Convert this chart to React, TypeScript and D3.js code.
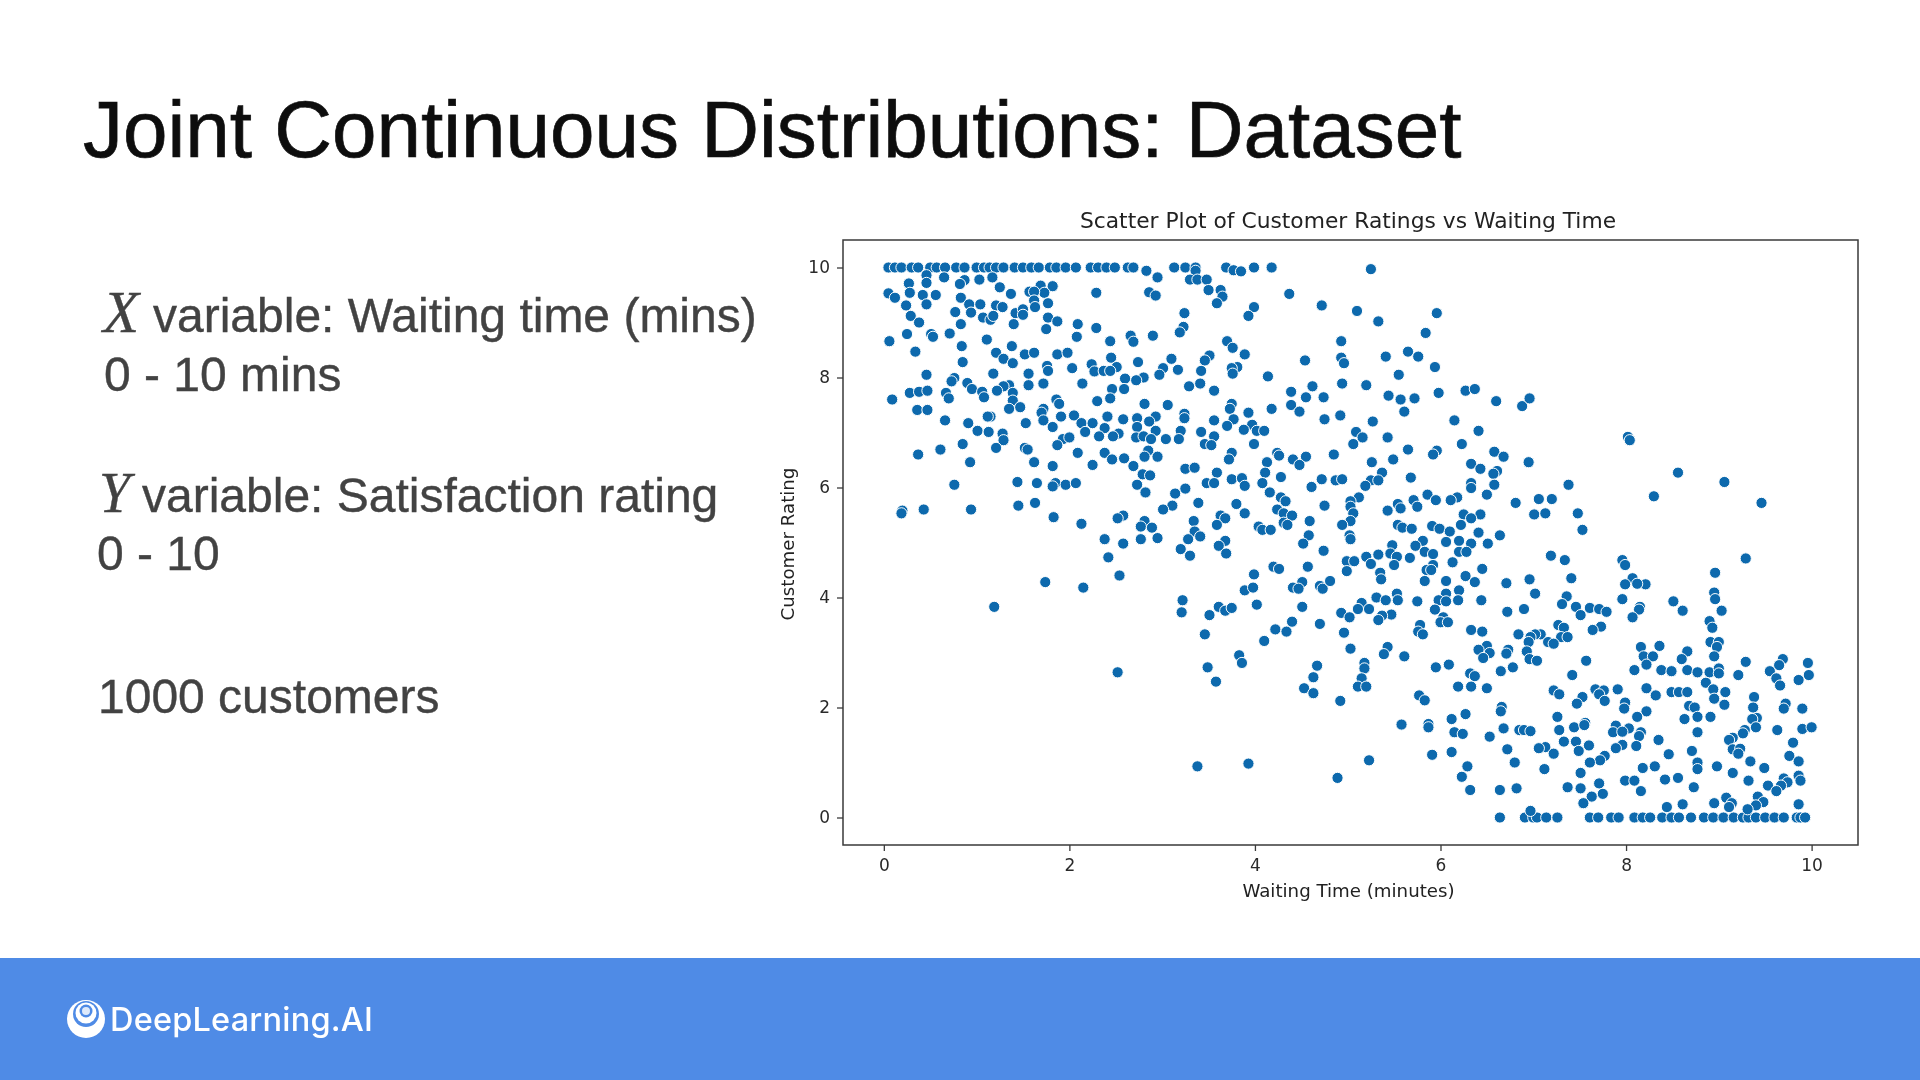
import { useEffect, useRef } from 'react'
import * as d3 from 'd3'

const WIDTH = 1920
const HEIGHT = 1080

const xTicks = [0, 2, 4, 6, 8, 10]
const yTicks = [0, 2, 4, 6, 8, 10]

// customers pinned at the top rating
const ratedTenX = [0.05,0.12,0.19,0.3,0.37,0.5,0.57,0.66,0.78,0.87,1.0,1.08,1.14,1.21,1.29,1.41,1.5,1.59,1.67,1.79,1.86,1.96,2.07,2.23,2.31,2.4,2.49,2.63,2.69,3.13,3.25,3.36,3.69,3.99,4.18]

// customers pinned at the bottom rating
const ratedZeroX = [6.64,6.91,7.0,7.04,7.14,7.26,7.61,7.7,7.84,7.92,8.09,8.18,8.26,8.39,8.49,8.57,8.7,8.84,8.94,9.05,9.16,9.26,9.32,9.4,9.5,9.6,9.7,9.84,9.88,9.93]

// [waiting time, rating]
const shortWaitHighRating: [number, number][] = [
  [2.83,9.94],[2.95,9.82],[3.36,9.94],[3.3,9.78],[3.38,9.78],[3.48,9.78],[3.5,9.59],[3.63,9.59],[3.65,9.47],[3.59,9.35],[3.77,9.95],[3.85,9.93],[4.37,9.52],[4.72,9.31],[3.99,9.28],[3.93,9.12],[3.24,9.17],[3.23,8.92],[3.19,8.82],[2.9,8.76],[2.66,8.76],[2.69,8.65],[2.29,9.54],[2.86,9.55],[2.93,9.49],
  [0.46,9.86],[0.65,9.82],[0.87,9.77],[1.03,9.78],[1.17,9.82],[0.46,9.72],[0.27,9.71],[0.28,9.54],[0.82,9.7],[1.25,9.64],[1.37,9.52],[1.69,9.67],[1.82,9.66],[1.73,9.54],[1.57,9.56],[1.62,9.56],[0.05,9.53],[0.12,9.45],[0.42,9.5],[0.56,9.5],[0.83,9.45],[0.24,9.31],[0.46,9.33],[0.92,9.33],[1.04,9.33],[1.21,9.31],[1.28,9.28],[1.62,9.4],[1.63,9.28],[1.77,9.35],
  [0.77,9.19],[0.94,9.18],[0.29,9.12],[0.38,9.0],[1.07,9.09],[1.15,9.05],[1.18,9.12],[1.42,9.17],[1.5,9.24],[1.5,9.14],[1.77,9.09],[1.87,9.02],[0.83,8.97],[1.4,8.97],[2.09,8.97],[2.29,8.9],[1.75,8.88],[0.25,8.79],[0.51,8.79],[0.53,8.74],[0.71,8.8],[0.06,8.66],[2.08,8.74],[2.44,8.66],[1.11,8.69],[0.84,8.57],[1.38,8.57],[0.34,8.47],[1.21,8.45],[1.52,8.42],[1.62,8.45],[1.87,8.42],[1.98,8.45],
  [3.7,8.66],[3.76,8.54],[3.89,8.42],[3.51,8.4],[3.1,8.34],[2.45,8.36],[1.29,8.34],[3.46,8.31],[2.74,8.28],[4.54,8.31],[0.85,8.28],[1.39,8.26],[1.76,8.21],[1.77,8.12],[2.24,8.24],[2.03,8.17],[2.51,8.19],[3.01,8.17],[3.17,8.14],[3.42,8.12],[3.81,8.19],[3.75,8.17],[3.76,8.07],[2.27,8.11],[2.37,8.12],[2.44,8.12],[0.46,8.05],[1.18,8.07],[1.56,8.07],[2.97,8.05],[4.14,8.02],[2.8,8.0],[2.6,7.98],[2.72,7.95],[0.76,7.99],[0.73,7.93],[0.9,7.9],[1.72,7.89],[2.14,7.89],[1.56,7.86],[1.35,7.86],[1.29,7.84],[3.29,7.84],[3.41,7.89],[4.62,7.84],
  [0.95,7.79],[1.22,7.76],[2.46,7.79],[2.59,7.79],[3.56,7.76],[4.39,7.74],[0.28,7.72],[0.38,7.74],[0.47,7.76],[0.67,7.72],[1.06,7.74],[1.08,7.64],[1.39,7.72],[4.55,7.64],[4.74,7.64],[0.7,7.62],[0.09,7.6],[2.44,7.62],[2.3,7.57],[1.86,7.6],[1.39,7.58],[1.89,7.52],[2.81,7.52],[3.06,7.5],[3.75,7.52],[4.39,7.5],[4.18,7.43],[3.73,7.43],[1.47,7.46],[1.35,7.43],[0.36,7.41],[0.47,7.41],[1.72,7.43],[1.7,7.36],[3.93,7.36],[4.48,7.38],[1.15,7.29],[1.12,7.29],[1.91,7.29],[2.05,7.31],[2.41,7.29],[2.73,7.26],[2.93,7.29],[3.24,7.34],[3.24,7.26],[0.66,7.22],[2.58,7.24],[3.56,7.22],[3.77,7.24],[4.75,7.24],[1.72,7.22],[2.86,7.2],[0.91,7.17],[1.53,7.17],[2.13,7.17],[2.25,7.17],[3.7,7.12],[2.73,7.1],[2.38,7.08],[1.82,7.1],[3.97,7.14],
  [1.01,7.03],[1.13,7.01],[3.2,7.03],[2.93,7.03],[3.88,7.05],[4.02,7.03],[4.1,7.03],[3.42,7.01],[2.17,7.01],[1.28,6.98],[2.53,6.98],[2.32,6.93],[2.47,6.93],[3.56,6.93],[2.72,6.91],[2.8,6.93],[2.88,6.88],[3.04,6.88],[3.18,6.88],[1.93,6.88],[2.0,6.91],[1.29,6.86],[0.85,6.79],[3.46,6.79],[3.53,6.77],[3.99,6.79],[1.87,6.77],[1.21,6.72],[1.52,6.72],[1.55,6.69],[0.61,6.69],[2.85,6.67],[3.75,6.63],[2.09,6.63],[2.38,6.63],[0.37,6.6],[4.24,6.63],[4.26,6.58],[2.81,6.56],[2.95,6.56],[2.46,6.51],[2.59,6.53],[3.72,6.51],[4.41,6.51],[4.55,6.56],
  [1.62,6.46],[0.93,6.46],[4.13,6.46],[2.25,6.41],[1.82,6.39],[2.69,6.39],[4.48,6.41],[3.25,6.34],[3.35,6.36],[4.11,6.27],[3.59,6.27],[2.79,6.24],[2.87,6.22],[4.28,6.19],[3.75,6.15],[3.86,6.17],[4.72,6.15],[1.44,6.1],[1.65,6.08],[1.85,6.08],[1.82,6.02],[1.96,6.05],[2.07,6.08],[0.76,6.05],[2.73,6.05],[3.48,6.08],[3.56,6.08],[4.08,6.08],[3.89,6.03],[4.61,6.01],[2.82,5.91],[3.25,5.98],[3.14,5.89],[4.16,5.91],[4.28,5.82],[4.33,5.75],[3.39,5.72],[3.8,5.7],[3.11,5.67],[4.75,5.67],[1.45,5.67],[1.63,5.72],[3.01,5.6],[4.24,5.6],[0.2,5.58],[0.19,5.53],[0.43,5.6],[0.94,5.6],[3.89,5.53],[4.31,5.53],[4.4,5.49],[1.83,5.46],[2.58,5.49],[2.52,5.44],[3.63,5.49],[3.68,5.44],[3.34,5.39],[4.59,5.39],[4.31,5.36],[4.35,5.32],[2.13,5.34],[2.81,5.39],[2.77,5.29],[2.89,5.27],[3.59,5.32],[4.04,5.29],[4.08,5.23],[4.17,5.23],[3.35,5.2],[3.41,5.11],[4.58,5.13],[2.38,5.06],[2.77,5.06],[2.95,5.08],[3.28,5.06],[3.68,5.03],[2.58,4.98],[4.52,4.98],[3.61,4.94],[3.2,4.88],
]

const longWaitHighRating: [number, number][] = [
  [5.25,9.97],[5.1,9.21],[5.33,9.02],[5.96,9.17],[5.84,8.81],[4.93,8.66],[4.93,8.36],[4.96,8.26],[5.41,8.38],[5.65,8.47],[5.76,8.38],[5.94,8.19],[5.55,8.05],[4.94,7.89],[5.2,7.86],[5.44,7.67],[5.57,7.6],[5.72,7.62],[5.98,7.72],[6.27,7.76],[6.37,7.79],[6.6,7.57],[6.88,7.48],[6.96,7.62],[5.61,7.38],[4.92,7.31],[5.27,7.2],[6.15,7.22],[6.41,7.03],[5.09,7.01],[5.16,6.91],[5.43,6.91],[5.06,6.79],[6.23,6.79],[8.02,6.92],[8.04,6.86],[5.65,6.69],[5.96,6.67],[5.92,6.6],[4.85,6.6],[6.58,6.65],[6.68,6.56],
  [5.26,6.46],[5.49,6.51],[6.95,6.46],[6.33,6.43],[6.43,6.34],[6.61,6.3],[6.57,6.25],[5.37,6.27],[5.68,6.18],[4.87,6.13],[4.94,6.15],[5.25,6.13],[5.33,6.13],[8.56,6.27],[9.06,6.1],[6.33,6.08],[6.33,5.99],[6.58,6.05],[7.38,6.05],[5.19,6.03],[8.3,5.84],[6.5,5.87],[5.86,5.87],[6.18,5.82],[6.11,5.77],[5.95,5.77],[5.71,5.77],[5.12,5.82],[5.03,5.75],[5.54,5.7],[9.46,5.72],[6.81,5.72],[7.06,5.79],[7.2,5.79],[5.03,5.65],[5.75,5.65],[5.57,5.62],[5.43,5.58],[5.06,5.53],[7.48,5.53],[7.01,5.51],[7.13,5.53],[6.43,5.51],[6.25,5.51],[6.33,5.44],[5.03,5.39],[4.94,5.32],[5.54,5.32],[5.59,5.27],[5.69,5.25],[5.91,5.3],[5.99,5.25],[6.22,5.32],[6.1,5.2],[7.53,5.23],[6.41,5.18],[6.64,5.13],[5.02,5.13],[5.03,5.06],[5.81,5.03],[5.48,4.95],[5.73,4.94],[6.06,5.01],[6.2,5.03],[6.33,4.98],[6.51,4.98],
]

const shortWaitLowRating: [number, number][] = [
  [3.69,4.8],[3.3,4.76],[2.42,4.73],[2.54,4.4],[4.74,4.85],[4.57,4.56],[4.2,4.56],[4.26,4.52],[3.99,4.42],[1.74,4.28],[2.15,4.18],[1.19,3.83],[4.51,4.28],[4.41,4.18],[4.47,4.16],[4.7,4.21],[4.73,4.16],[4.81,4.3],[3.89,4.13],[3.98,4.18],[3.22,3.95],[3.21,3.73],[3.61,3.83],[3.68,3.76],[3.75,3.81],[3.51,3.68],[4.02,3.87],[4.51,3.83],[4.7,3.52],[4.4,3.56],[4.22,3.42],[4.34,3.38],[3.46,3.33],[4.1,3.21],[3.83,2.95],[3.86,2.81],[3.49,2.73],[4.67,2.76],[4.63,2.55],[2.52,2.64],[3.58,2.47],[4.53,2.35],[4.63,2.26],[3.38,0.93],[3.93,0.98],
]

const longWaitLowRating: [number, number][] = [
  [4.99,4.66],[5.07,4.66],[4.99,4.48],[5.2,4.74],[5.25,4.61],[5.33,4.78],[5.46,4.8],[5.53,4.74],[5.5,4.59],[5.35,4.45],[5.36,4.33],[5.67,4.72],[5.83,4.83],[5.92,4.79],[5.92,4.59],[5.85,4.5],[5.9,4.5],[5.83,4.3],[6.2,4.83],[6.28,4.83],[6.13,4.64],[6.45,4.52],[6.27,4.39],[6.37,4.28],[6.06,4.3],[6.71,4.26],[6.96,4.33],[7.19,4.76],[7.34,4.68],[7.41,4.35],[7.96,4.68],[7.99,4.59],[8.96,4.45],[9.29,4.71],[8.07,4.35],[7.99,4.24],[8.21,4.24],[8.12,4.25],[8.95,4.09],[8.96,3.97],
  [6.2,4.13],[6.06,4.07],[7.02,4.07],[7.36,4.02],[5.31,4.0],[5.41,3.95],[5.53,4.07],[5.54,3.95],[5.75,3.93],[5.98,3.95],[6.06,3.93],[6.19,3.95],[6.44,3.95],[7.96,3.97],[8.51,3.93],[5.15,3.9],[5.11,3.79],[5.23,3.79],[7.31,3.88],[7.46,3.83],[7.61,3.81],[7.71,3.79],[7.79,3.74],[8.15,3.83],[8.14,3.78],[8.61,3.76],[9.03,3.76],[4.93,3.72],[5.02,3.64],[5.47,3.69],[5.37,3.67],[5.33,3.59],[5.94,3.78],[6.03,3.64],[6.0,3.55],[6.08,3.55],[6.72,3.74],[6.9,3.79],[7.51,3.68],[8.07,3.64],[8.9,3.57],[8.93,3.45],
  [5.78,3.5],[4.96,3.36],[5.76,3.38],[5.81,3.33],[6.33,3.41],[6.45,3.38],[7.27,3.5],[7.33,3.45],[7.73,3.47],[7.64,3.41],[7.08,3.33],[7.02,3.33],[6.97,3.28],[6.84,3.33],[7.3,3.28],[7.37,3.28],[7.16,3.19],[7.22,3.16],[6.95,3.19],[5.03,3.07],[5.43,3.1],[6.5,3.12],[6.41,3.05],[6.53,2.99],[6.73,3.05],[6.71,2.98],[6.93,3.02],[8.16,3.1],[8.36,3.12],[8.91,3.19],[9.0,3.19],[8.98,3.1],[8.66,3.02],[5.39,2.97],[5.61,2.93],[6.46,2.9],[6.96,2.88],[7.04,2.85],[7.57,2.85],[8.19,2.93],[8.29,2.93],[8.95,2.93],[8.6,2.88],[9.29,2.83],[9.69,2.88],[9.96,2.81],[5.18,2.81],[5.18,2.71],[6.09,2.78],[8.22,2.78],[9.65,2.77],[5.95,2.73],[6.78,2.73],
  [8.09,2.68],[8.38,2.68],[8.49,2.66],[8.66,2.68],[8.77,2.64],[8.9,2.64],[9.0,2.71],[9.0,2.62],[9.55,2.66],[6.65,2.66],[6.32,2.62],[6.37,2.57],[7.42,2.59],[9.21,2.59],[9.97,2.59],[9.62,2.53],[9.86,2.5],[5.15,2.53],[8.86,2.45],[9.66,2.4],[5.11,2.38],[5.2,2.38],[6.19,2.38],[6.33,2.38],[6.5,2.35],[7.91,2.33],[8.22,2.35],[8.94,2.33],[7.22,2.31],[7.67,2.33],[7.76,2.31],[7.71,2.24],[8.49,2.28],[8.57,2.28],[8.66,2.28],[9.07,2.28],[7.28,2.24],[8.32,2.22],[5.77,2.22],[7.53,2.19],[9.38,2.19],[8.95,2.16],[5.83,2.13],[4.92,2.12],[7.77,2.12],[7.99,2.09],[7.47,2.07],[9.06,2.05],[8.68,2.03],[8.74,2.0],[9.37,2.0],[9.72,2.07],[6.66,2.01],[6.65,1.93],[9.7,1.98],[9.9,1.98],[7.98,1.98],[8.22,1.93],[6.27,1.88],[8.12,1.83],[8.91,1.83],[7.26,1.83],[8.77,1.83],[8.63,1.79],[6.12,1.79],[9.41,1.81],[9.36,1.79],
  [7.56,1.72],[5.58,1.69],[5.87,1.7],[5.87,1.64],[7.44,1.64],[7.55,1.68],[7.89,1.67],[8.03,1.62],[9.4,1.64],[9.28,1.59],[9.9,1.61],[10.0,1.64],[6.68,1.62],[6.85,1.59],[6.9,1.59],[6.97,1.57],[7.28,1.59],[9.63,1.59],[6.15,1.55],[6.24,1.52],[7.86,1.55],[7.96,1.56],[8.16,1.55],[8.77,1.55],[9.26,1.53],[8.14,1.48],[6.53,1.47],[9.15,1.45],[9.11,1.41],[8.35,1.41],[7.33,1.38],[7.46,1.38],[9.8,1.36],[7.6,1.31],[7.96,1.32],[8.11,1.3],[7.13,1.28],[7.06,1.26],[7.89,1.26],[6.72,1.24],[7.49,1.21],[8.71,1.21],[9.15,1.24],[9.23,1.25],[9.21,1.16],[7.22,1.16],[6.12,1.19],[8.46,1.15],[5.91,1.14],[7.77,1.12],[9.76,1.12],[7.72,1.04],[5.23,1.04],[7.61,1.0],[6.8,1.0],[9.34,1.02],[9.86,1.02],[8.77,1.0],
  [6.29,0.93],[8.98,0.93],[8.18,0.9],[8.31,0.93],[9.49,0.9],[8.77,0.88],[7.12,0.88],[7.51,0.81],[9.15,0.81],[9.86,0.76],[6.23,0.74],[4.89,0.72],[8.56,0.72],[8.42,0.69],[7.99,0.67],[8.09,0.67],[9.32,0.67],[9.7,0.71],[9.88,0.67],[9.74,0.64],[7.71,0.62],[7.37,0.55],[7.51,0.53],[8.73,0.55],[9.53,0.58],[9.67,0.58],[6.82,0.53],[6.64,0.5],[6.32,0.5],[8.16,0.48],[9.62,0.48],[7.75,0.43],[7.63,0.38],[9.42,0.38],[9.08,0.36],[9.48,0.28],[8.95,0.26],[9.14,0.26],[7.54,0.26],[8.61,0.24],[9.86,0.24],[9.11,0.19],[8.44,0.19],[9.4,0.22],[9.31,0.15],[6.97,0.12],
]

const allPoints: [number, number][] = [
  ...ratedTenX.map((v): [number, number] => [v, 10]),
  ...ratedZeroX.map((v): [number, number] => [v, 0]),
  ...shortWaitHighRating,
  ...longWaitHighRating,
  ...shortWaitLowRating,
  ...longWaitLowRating,
]

const plot = { left: 843, right: 1858, top: 240, bottom: 845 }
const chartFont = '"DejaVu Sans", sans-serif'
const slideFont = '"Liberation Sans", Arial, sans-serif'
const mathFont = '"Liberation Serif", serif'

export default function App() {
  const plotRef = useRef<SVGGElement | null>(null)

  useEffect(() => {
    if (!plotRef.current) return
    const g = d3.select(plotRef.current)
    g.selectAll('*').remove()

    const x = d3.scaleLinear().domain([-0.44, 10.5]).range([plot.left, plot.right])
    const y = d3.scaleLinear().domain([-0.5, 10.5]).range([plot.bottom, plot.top])

    g.append('rect')
      .attr('x', plot.left)
      .attr('y', plot.top)
      .attr('width', plot.right - plot.left)
      .attr('height', plot.bottom - plot.top)
      .attr('fill', '#fff')
      .attr('stroke', '#3a3a3a')
      .attr('stroke-width', 1.5)

    // 점
    g.append('g')
      .selectAll('circle')
      .data(allPoints)
      .join('circle')
      .attr('cx', (d) => x(d[0]))
      .attr('cy', (d) => y(d[1]))
      .attr('r', 5.6)
      .attr('fill', '#0a69ad')
      .attr('stroke', '#fff')
      .attr('stroke-width', 1)

    const xAxis = g
      .append('g')
      .attr('transform', `translate(0,${plot.bottom})`)
      .call(d3.axisBottom(x).tickValues(xTicks).tickSize(6).tickPadding(8).tickFormat(d3.format('d')))
    const yAxis = g
      .append('g')
      .attr('transform', `translate(${plot.left},0)`)
      .call(d3.axisLeft(y).tickValues(yTicks).tickSize(6).tickPadding(7).tickFormat(d3.format('d')))

    for (const axis of [xAxis, yAxis]) {
      axis.select('.domain').remove()
      axis.selectAll('line').attr('stroke', '#3a3a3a').attr('stroke-width', 1.3)
      axis
        .selectAll('text')
        .attr('font-family', chartFont)
        .attr('font-size', 17)
        .attr('fill', '#2a2a2a')
    }
  }, [])

  return (
    <svg
      width={WIDTH}
      height={HEIGHT}
      viewBox={`0 0 ${WIDTH} ${HEIGHT}`}
      style={{ position: 'fixed', left: 0, top: 0, background: '#fff' }}
    >
      <defs>
        <filter id="videoSoft" x="0" y="0" width="100%" height="100%">
          <feGaussianBlur stdDeviation="0.55" />
        </filter>
      </defs>
      <g filter="url(#videoSoft)">
        <rect x={0} y={0} width={WIDTH} height={HEIGHT} fill="#fff" />
        <text x={83} y={157} fontFamily={slideFont} fontSize={80} fill="#111" stroke="#111" strokeWidth={0.7}>
          Joint Continuous Distributions: Dataset
        </text>

        <g fontFamily={slideFont} fontSize={48} fill="#434343" stroke="#434343" strokeWidth={0.4}>
          <text x={103} y={332} fontFamily={mathFont} fontStyle="italic" fontSize={59}>X</text>
          <text x={153} y={332}>variable: Waiting time (mins)</text>
          <text x={104} y={391}>0 - 10 mins</text>
          <text x={99} y={512} fontFamily={mathFont} fontStyle="italic" fontSize={56}>Y</text>
          <text x={142} y={512}>variable: Satisfaction rating</text>
          <text x={97} y={570}>0 - 10</text>
          <text x={98} y={713}>1000 customers</text>
        </g>

        <text x={1348} y={228} textAnchor="middle" fontFamily={chartFont} fontSize={21.8} fill="#222">
          Scatter Plot of Customer Ratings vs Waiting Time
        </text>
        <g ref={plotRef} />
        <text x={1348.5} y={897} textAnchor="middle" fontFamily={chartFont} fontSize={18.2} fill="#222">
          Waiting Time (minutes)
        </text>
        <text
          transform="translate(794,544) rotate(-90)"
          textAnchor="middle"
          fontFamily={chartFont}
          fontSize={18.2}
          fill="#222"
        >
          Customer Rating
        </text>

        <rect x={0} y={958} width={WIDTH} height={122} fill="#4f8be6" />
        <circle cx={86} cy={1019} r={19} fill="#fff" />
        <circle cx={86} cy={1014} r={13} fill="#4f8be6" />
        <circle cx={86} cy={1013} r={10.5} fill="#fff" />
        <circle cx={86} cy={1011} r={6.5} fill="#4f8be6" />
        <circle cx={86} cy={1011} r={4} fill="#dfeafb" />
        <text x={110} y={1031} fontFamily="Inter, sans-serif" fontSize={32.5} fontWeight={500} letterSpacing={0.2} fill="#fff">
          DeepLearning.AI
        </text>
      </g>
    </svg>
  )
}
